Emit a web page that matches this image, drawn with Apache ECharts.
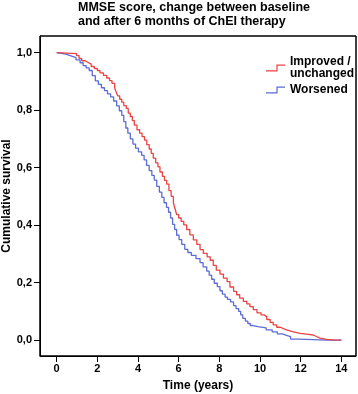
<!DOCTYPE html>
<html>
<head>
<meta charset="utf-8">
<script src="https://cdn.jsdelivr.net/npm/echarts@6/dist/echarts.min.js"></script>
<style>
  html, body { margin: 0; padding: 0; background: #fff; }
  #chart { width: 358px; height: 394px; }
</style>
</head>
<body>
<div id="chart"></div>
<script>
// 读取自原图的生存曲线数据
var improvedTime = [0,0.98,1.1,1.23,1.4,1.55,1.7,1.85,2.0,2.13,2.3,2.46,2.6,2.72,2.85,2.93,3.0,3.1,3.2,3.3,3.42,3.52,3.62,3.72,3.82,3.95,4.08,4.2,4.32,4.43,4.55,4.65,4.75,4.87,4.98,5.08,5.2,5.3,5.41,5.52,5.63,5.74,5.82,5.9,6.0,6.12,6.25,6.39,6.55,6.72,6.89,7.05,7.21,7.4,7.55,7.7,7.85,8.03,8.2,8.38,8.52,8.7,8.85,9.0,9.18,9.35,9.5,9.67,9.85,10.05,10.2,10.33,10.5,10.65,10.82,11.0,11.15,11.31,11.6,11.97,12.3,12.62,12.8,12.95,13.28,13.6,14.0];
var improvedSurv = [1,0.997,0.99,0.98,0.972,0.966,0.96,0.952,0.945,0.938,0.93,0.921,0.912,0.903,0.893,0.878,0.862,0.85,0.838,0.828,0.816,0.806,0.79,0.778,0.764,0.748,0.732,0.72,0.708,0.696,0.68,0.665,0.65,0.633,0.617,0.603,0.585,0.57,0.556,0.543,0.52,0.5,0.478,0.457,0.437,0.425,0.413,0.401,0.385,0.366,0.349,0.333,0.315,0.302,0.29,0.278,0.26,0.244,0.23,0.216,0.204,0.185,0.17,0.158,0.146,0.135,0.126,0.117,0.106,0.095,0.088,0.082,0.072,0.062,0.053,0.045,0.04,0.036,0.03,0.024,0.021,0.018,0.012,0.007,0.003,0.001,0];
var worsenedTime = [0,0.45,0.7,0.95,1.15,1.3,1.45,1.6,1.75,1.9,2.05,2.2,2.35,2.5,2.65,2.8,2.95,3.08,3.2,3.3,3.4,3.5,3.62,3.75,3.88,4.02,4.18,4.3,4.42,4.55,4.68,4.8,4.92,5.05,5.17,5.28,5.4,5.5,5.6,5.7,5.8,5.9,6.02,6.15,6.3,6.45,6.62,6.85,7.05,7.2,7.38,7.5,7.62,7.75,7.9,8.03,8.15,8.28,8.4,8.55,8.7,8.82,8.95,9.05,9.15,9.28,9.4,9.52,9.65,9.9,10.3,10.6,10.85,11.1,11.3,11.5,11.95,13.3,14.0];
var worsenedSurv = [1,0.995,0.989,0.983,0.975,0.965,0.955,0.947,0.938,0.92,0.902,0.89,0.878,0.868,0.857,0.846,0.832,0.815,0.798,0.782,0.76,0.738,0.72,0.70,0.682,0.668,0.655,0.643,0.627,0.608,0.59,0.573,0.557,0.535,0.515,0.497,0.478,0.462,0.445,0.425,0.403,0.385,0.365,0.35,0.333,0.316,0.305,0.295,0.284,0.27,0.255,0.24,0.226,0.212,0.198,0.186,0.172,0.16,0.15,0.142,0.133,0.12,0.11,0.1,0.088,0.076,0.066,0.058,0.051,0.047,0.043,0.036,0.029,0.022,0.017,0.012,0.004,0,0];

var xMajorTicks = [0,2,4,6,8,10,12,14];
var xMinorTicks = [1,3,5,7,9,11,13];
var yMajorTicks = [0,0.2,0.4,0.6,0.8,1];
var yMinorTicks = [0.1,0.3,0.5,0.7,0.9];

var seriesNames = ['Improved /\nunchanged', 'Worsened'];

function pairs(ts, ss) {
	var out = [];
	for (var i = 0; i < ts.length; i++) {
		out.push([ts[i], ss[i]]);
	}
	return out;
}

var FONT = 'Liberation Sans';
var X_MIN = -0.82, X_MAX = 14.72, Y_MIN = -0.055, Y_MAX = 1.058;
var stepIcon = 'path://M0,5.8L10.4,5.8L10.4,0L19,0L19,1.2L11.6,1.2L11.6,7L0,7Z';

var myChart = echarts.init(document.getElementById('chart'));
var option = {
	animation: false,
	title: {
		text: 'MMSE score, change between baseline\nand after 6 months of ChEI therapy',
		left: 73, top: -4,
		textStyle: {fontFamily: FONT, fontWeight: 'bold', fontSize: 12.5, lineHeight: 14, color: '#000'}
	},
	graphic: [
		// 图框
		{type: 'rect', shape: {x: 40, y: 36, width: 316, height: 320}, style: {fill: 'none', stroke: '#000', lineWidth: 1}}
	],
	legend: {
		data: seriesNames,
		orient: 'vertical',
		left: 261,
		top: 51,
		itemWidth: 19,
		itemHeight: 7,
		itemGap: 4,
		icon: stepIcon,
		textStyle: {fontFamily: FONT, fontWeight: 'bold', fontSize: 12, color: '#000', lineHeight: 12}
	},
	grid: {
		left: 40, top: 36, right: 2, bottom: 38,
		outerBoundsMode: 'none',
		show: true, borderColor: '#000', borderWidth: 1
	},
	xAxis: {
		type: 'value', min: X_MIN, max: X_MAX,
		name: 'Time (years)', nameLocation: 'middle', nameGap: 24, nameMoveOverlap: false,
		nameTextStyle: {fontFamily: FONT, fontWeight: 'bold', fontSize: 12, color: '#000'},
		axisLine: {show: true, onZero: false, lineStyle: {color: '#000', width: 1}},
		axisTick: {show: true, length: 6, customValues: xMajorTicks, lineStyle: {color: '#000'}},
		axisLabel: {show: true, customValues: xMajorTicks, margin: 7, fontFamily: FONT, fontWeight: 'bold', fontSize: 11, color: '#000'},
		splitLine: {show: false}
	},
	yAxis: {
		type: 'value', min: Y_MIN, max: Y_MAX,
		name: 'Cumulative survival', nameLocation: 'middle', nameGap: 27, nameMoveOverlap: false,
		nameTextStyle: {fontFamily: FONT, fontWeight: 'bold', fontSize: 12, color: '#000'},
		axisLine: {show: true, onZero: false, lineStyle: {color: '#000', width: 1}},
		axisTick: {show: true, length: 6, customValues: yMajorTicks, lineStyle: {color: '#000'}},
		axisLabel: {
			show: true, customValues: yMajorTicks, margin: 8,
			fontFamily: FONT, fontWeight: 'bold', fontSize: 11, color: '#000',
			formatter: function (v) { return v.toFixed(1).replace('.', ','); }
		},
		splitLine: {show: false}
	},
	series: [
		{
			name: seriesNames[0], type: 'line', step: 'start', z: 3,
			showSymbol: false, symbol: 'none',
			color: '#ec4242',
			lineStyle: {width: 1.3, color: '#ec4242'},
			data: pairs(improvedTime, improvedSurv)
		},
		{
			name: seriesNames[1], type: 'line', step: 'start', z: 2,
			showSymbol: false, symbol: 'none',
			color: '#5b6cd6',
			lineStyle: {width: 1.3, color: '#5b6cd6'},
			data: pairs(worsenedTime, worsenedSurv)
		}
	]
};
myChart.setOption(option);
</script>
</body>
</html>
